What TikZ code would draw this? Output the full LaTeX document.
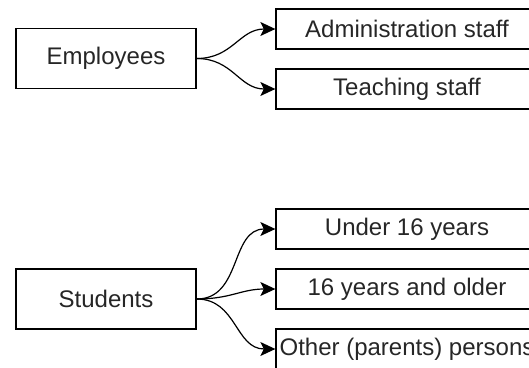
\documentclass[tikz,border=0pt]{standalone}
\usepackage{fontspec}
\setmainfont{Liberation Sans}
\usetikzlibrary{arrows.meta}

\begin{document}
\begin{tikzpicture}[x=1pt,y=1pt,line width=1.3pt,text=black!85,
	font=\fontsize{24}{28}\selectfont,
	group/.style={rectangle, draw, minimum width=180pt, minimum height=60pt},
	item/.style={rectangle, draw, minimum width=262pt, minimum height=40pt},
	link/.style={-{Stealth[length=15pt,width=14pt,inset=3.5pt]}, line width=1.2pt,
		out=0, in=180, looseness=1.1}]
	\useasboundingbox (0,0) rectangle (529,-367);
	\clip (0,0) rectangle (529,-367);
	% people groups
	\node (E)  at (106, -58.5)	[group]	{Employees};
	\node (S)  at (106, -299)	[group]	{Students};
	% sub groups
	\node (E1) at (407, -29)	[item]	{Administration staff};
	\node (E2) at (407, -89)	[item]	{Teaching staff};
	\node (S1) at (407, -229)	[item]	{Under 16 years};
	\node (S2) at (407, -289)	[item]	{16 years and older};
	\node (S3) at (407, -349)	[item]	{Other (parents) persons};
	\draw[link] (E.east) to (E1.west);
	\draw[link] (E.east) to (E2.west);
	\draw[link] (S.east) to (S1.west);
	\draw[link] (S.east) to (S2.west);
	\draw[link] (S.east) to (S3.west);
\end{tikzpicture}
\end{document}
